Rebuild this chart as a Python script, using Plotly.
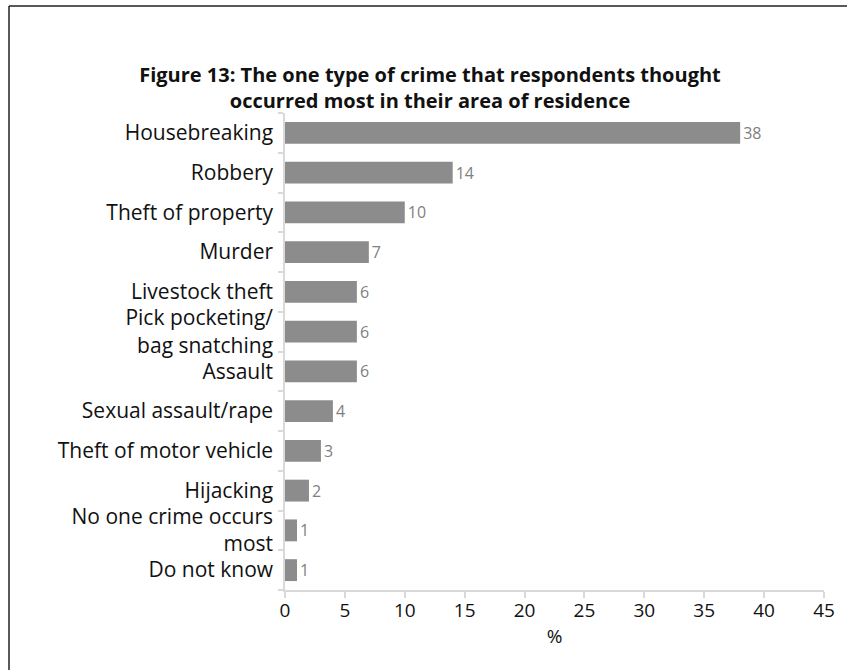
import plotly.graph_objects as go

categories = ["Housebreaking", "Robbery", "Theft of property", "Murder", "Livestock theft",
              "Pick pocketing/<br>bag snatching", "Assault", "Sexual assault/rape",
              "Theft of motor vehicle", "Hijacking", "No one crime occurs<br>most", "Do not know"]
values = [38, 14, 10, 7, 6, 6, 6, 4, 3, 2, 1, 1]
x_ticks = [0, 5, 10, 15, 20, 25, 30, 35, 40, 45]

W, H = 847, 670
L, R, T, B = 285, 23, 113, 80
pw, ph = W - L - R, H - T - B

def px_x(px):
    return (px - L) / pw

def px_y(py):
    return (H - B - py) / ph

FONT = "Open Sans"
fig = go.Figure(go.Bar(
    x=values, y=categories, orientation="h",
    marker=dict(color="#8c8c8c", line=dict(width=0)),
    text=[str(v) for v in values], textposition="outside",
    textfont=dict(color="#808080", size=19, family=FONT),
    cliponaxis=False,
))

fig.update_layout(
    width=W, height=H,
    margin=dict(l=L, r=R, t=T, b=B),
    paper_bgcolor="white", plot_bgcolor="white",
    bargap=0.45,
    showlegend=False,
    font=dict(family=FONT, color="#000000"),
    title=dict(text="<b>Figure 13: The one type of crime that respondents thought<br>occurred most in their area of residence</b>",
               x=430 / W, xanchor="center", y=1 - 82 / H, yanchor="top", yref="container",
               font=dict(size=20, family=FONT, color="#111111")),
    xaxis=dict(range=[0, 45], tickvals=x_ticks, ticktext=[str(t) for t in x_ticks],
               showgrid=False, zeroline=False, showline=True, linecolor="#d9d9d9", linewidth=1.5,
               ticks="outside", ticklen=6, tickcolor="#d9d9d9", tickwidth=1.5,
               tickfont=dict(size=19, color="#111111"), ticklabelstandoff=-4,
               title=dict(text="%", font=dict(size=19, color="#111111"), standoff=8)),
    yaxis=dict(categoryorder="array", categoryarray=categories[::-1],
               autorange=False, range=[-0.5, len(categories) - 0.5],
               showgrid=False, zeroline=False, showline=True, linecolor="#d9d9d9", linewidth=1.5,
               ticks="outside", tickson="boundaries", ticklen=5, tickcolor="#d9d9d9", tickwidth=1.5,
               tickfont=dict(size=21, color="#111111"), ticklabelstandoff=6),
    shapes=[
        dict(type="line", xref="paper", yref="paper", x0=px_x(9), x1=px_x(W + 5), y0=px_y(6), y1=px_y(6),
             line=dict(color="#222222", width=1.5)),
        dict(type="line", xref="paper", yref="paper", x0=px_x(9), x1=px_x(9), y0=px_y(6), y1=px_y(H + 5),
             line=dict(color="#222222", width=1.5)),
    ],
)

fig.write_html("out.html", config={"displayModeBar": False},
               post_script="document.body.style.margin='0';")
